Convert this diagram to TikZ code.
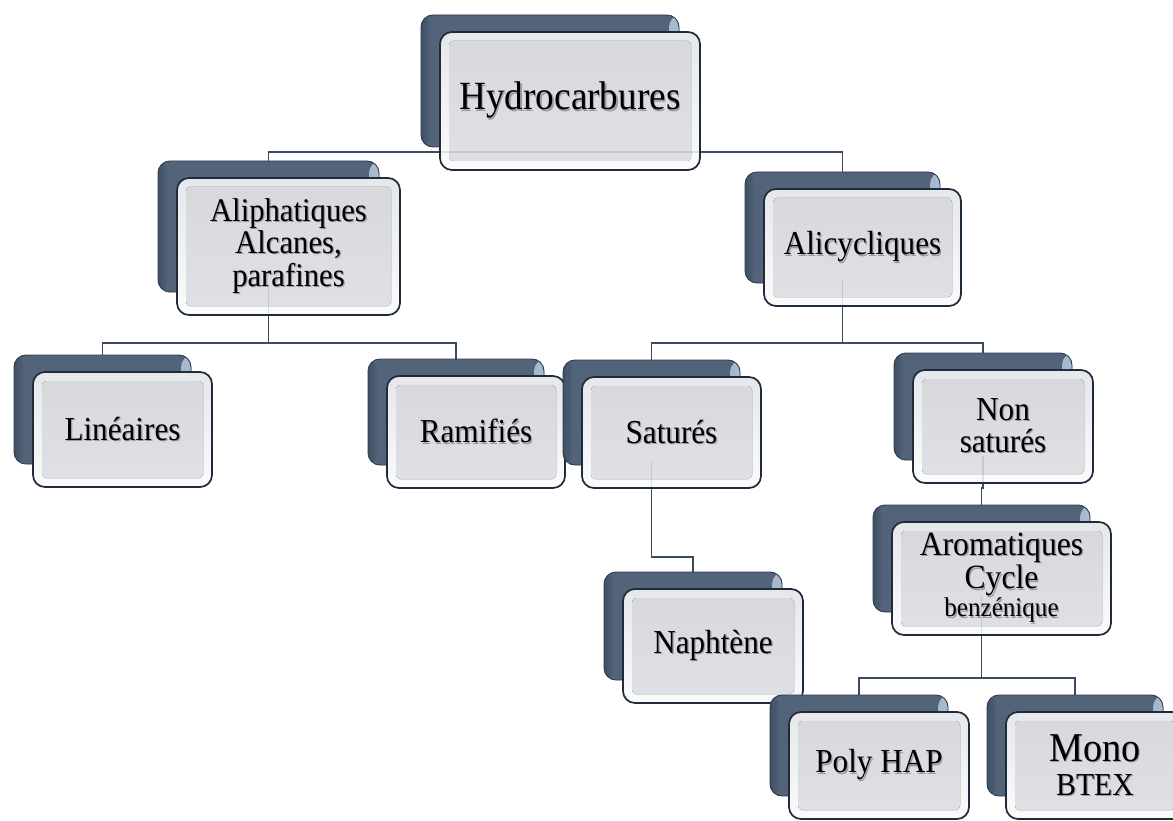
\documentclass[tikz,border=0pt]{standalone}
\usepackage{fontspec}
\setmainfont{Liberation Serif}[FakeStretch=0.93]
\usetikzlibrary{calc}
\definecolor{bk1}{HTML}{3F4F63}
\definecolor{bk2}{HTML}{52637A}
\definecolor{bk3}{HTML}{A9BCD0}
\definecolor{bkedge}{HTML}{2F3D4E}
\definecolor{edgec}{HTML}{1E2B3A}
\definecolor{bevT}{HTML}{E6E7EA}
\definecolor{bevB}{HTML}{FBFBFC}
\definecolor{panT}{HTML}{D7D8DC}
\definecolor{panB}{HTML}{E0E1E4}
\definecolor{linec}{HTML}{3B4B5F}
\definecolor{shadowc}{HTML}{9A9CA2}
\newcommand\shd[1]{\leavevmode\rlap{\kern1.3pt\raisebox{-1.3pt}{\textcolor{shadowc}{#1}}}#1}
\tikzset{
  backbox/.style={rounded corners=12pt, draw=bkedge, line width=0.9pt, fill=bk2, inner sep=0pt,
    path picture={
      \fill[left color=bk2, right color=bk3]
        ([shift={(-10pt,0pt)}]path picture bounding box.north east) rectangle
        (path picture bounding box.south east);
      \fill[left color=bk1, right color=bk2]
        (path picture bounding box.south west) rectangle
        ([shift={(10pt,0pt)}]path picture bounding box.north west);}},
  frontbox/.style={rounded corners=12pt, draw=edgec, line width=1.7pt, top color=bevT, bottom color=bevB,
    align=center, inner sep=0pt, text=black,
    path picture={\fill[rounded corners=4pt, top color=panT, bottom color=panB]
      ([shift={(9pt,9pt)}]path picture bounding box.south west) rectangle
      ([shift={(-9pt,-9pt)}]path picture bounding box.north east);}},
  conn/.style={draw=linec, line width=1.6pt},
  fA/.style={font=\fontsize{33.5}{31}\selectfont},
  fH/.style={font=\fontsize{40}{40}\selectfont},
}
% name, cx, cy, w, h, style, text
\newcommand\smbox[7]{%
  \node[backbox, minimum width=#4pt-2pt, minimum height=#5pt-6pt] (#1b) at (#2-20,#3-20) {};
  \node[frontbox, #6, minimum width=#4pt, minimum height=#5pt] (#1) at (#2,#3) {#7};
}
\newcommand\conns{%
  \draw[conn] (hb.center) -- (hb.center |- 0,152) -| (ab.north);
  \draw[conn] (hb.center |- 0,152) -| (cb.north);
  \draw[conn] (ab.center) -- (ab.center |- 0,343) -| (lb.north);
  \draw[conn] (ab.center |- 0,343) -| (rb.north);
  \draw[conn] (cb.center) -- (cb.center |- 0,343) -| (sb.north);
  \draw[conn] (cb.center |- 0,343) -| (nb.north);
  \draw[conn] (sb.center) -- (sb.center |- 0,557) -| (phb.north);
  \draw[conn] (nb.center) -- (nb.center |- 0,488) -| (arb.north);
  \draw[conn] (arb.center) -- (arb.center |- 0,678) -| (pb.north);
  \draw[conn] (arb.center |- 0,678) -| (mb.north);
}
\begin{document}
\begin{tikzpicture}[x=1pt,y=-1pt]
\useasboundingbox (0,0) rectangle (1173,821);
\fill[white] (0,0) rectangle (1173,821);
% invisible placeholders so connectors can be drawn first
\begin{scope}[opacity=0]
\node[minimum width=256pt, minimum height=132pt, inner sep=0pt] (hb) at (550,81) {};
\node[minimum width=221pt, minimum height=131pt, inner sep=0pt] (ab) at (268.5,226.5) {};
\node[minimum width=195pt, minimum height=111pt, inner sep=0pt] (cb) at (842.5,227.5) {};
\node[minimum width=177pt, minimum height=109pt, inner sep=0pt] (lb) at (102.5,409.5) {};
\node[minimum width=176pt, minimum height=106pt, inner sep=0pt] (rb) at (456,412) {};
\node[minimum width=177pt, minimum height=105pt, inner sep=0pt] (sb) at (651.5,412.5) {};
\node[minimum width=178pt, minimum height=107pt, inner sep=0pt] (nb) at (983,406.5) {};
\node[minimum width=217pt, minimum height=107pt, inner sep=0pt] (arb) at (981.5,558.5) {};
\node[minimum width=178pt, minimum height=108pt, inner sep=0pt] (phb) at (693,626) {};
\node[minimum width=178pt, minimum height=101pt, inner sep=0pt] (pb) at (859,745.5) {};
\node[minimum width=170pt, minimum height=101pt, inner sep=0pt] (mb) at (1075,745.5) {};
\end{scope}
\conns
\smbox{h}{570}{101}{260}{138}{fH}{\shd{Hydrocarbures}}
\smbox{a}{288.5}{246.5}{223}{137}{font=\fontsize{33}{32}\selectfont}{\shd{Aliphatiques}\\\shd{Alcanes,}\\[1pt]\shd{parafines}}
\smbox{l}{122.5}{429.5}{179}{115}{fA}{\shd{Linéaires}}
\smbox{r}{476}{432}{178}{112}{fA}{\shd{Ramifiés}}
\smbox{c}{862.5}{247.5}{197}{117}{fA}{\shd{Alicycliques}}
\smbox{s}{671.5}{432.5}{179}{111}{fA}{\shd{Saturés}}
\smbox{ph}{713}{646}{180}{114}{fA}{\shd{Naphtène}}
\smbox{n}{1003}{426.5}{180}{113}{font=\fontsize{33.5}{32}\selectfont}{\shd{Non}\\\shd{saturés}}
\smbox{ar}{1001.5}{578.5}{219}{113}{font=\fontsize{34}{31}\selectfont}{\shd{Aromatiques}\\\shd{Cycle}\\[-3pt]{\fontsize{27}{27}\selectfont\shd{benzénique}}}
\smbox{p}{879}{765.5}{180}{107}{fA}{\shd{Poly HAP}}
\smbox{m}{1095}{765.5}{178}{107}{font=\fontsize{41}{34}\selectfont}{\shd{Mono}\\{\fontsize{32}{32}\selectfont\shd{BTEX}}}
% connector lines faintly visible through the translucent front boxes
\begin{scope}[opacity=0.15]
\draw[conn] (h.west |- 0,152) -- (h.east |- 0,152);
\draw[conn] ([yshift=28pt]a.south -| ab.center) -- (a.south -| ab.center);
\draw[conn] ([yshift=28pt]c.south -| cb.center) -- (c.south -| cb.center);
\draw[conn] ([yshift=28pt]s.south -| sb.center) -- (s.south -| sb.center);
\draw[conn] ([yshift=28pt]n.south -| nb.center) -- (n.south -| nb.center);
\draw[conn] ([yshift=40pt]ar.south -| arb.center) -- (ar.south -| arb.center);
\end{scope}
\end{tikzpicture}
\end{document}
